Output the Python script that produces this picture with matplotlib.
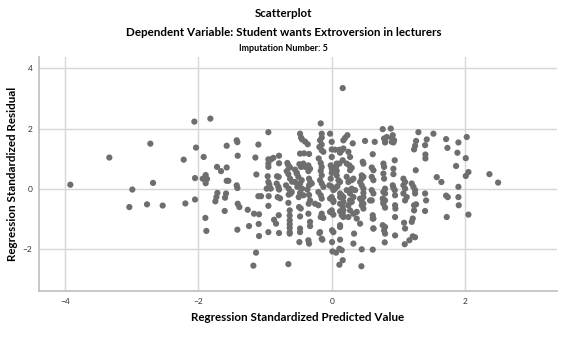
import matplotlib
matplotlib.use("Agg")
import matplotlib.pyplot as plt

# standardized predicted value / standardized residual
pred = [
    -3.92, -3.335, -2.72, -2.99, -3.035, -2.68, -2.77, -2.535, -2.22, -2.195,
    -2.06, -1.82, -2.035, -2.05, -2.05, -1.92, -1.935, -1.89, -1.87, -1.89,
    -1.895, -1.88, -1.72, -1.66, -1.575, -1.575, -1.575, -1.55, -1.715, -1.73,
    -1.745, -1.585, -1.6, -1.605,
    -1.425, -1.415, -1.41, -1.425, -1.415, -1.41, -1.385, -1.415, -1.26, -1.24,
    -1.165, -1.09, -1.095, -1.09, -1.135, -1.175, -1.1, -1.145, -1.13, -1.1,
    -1.06, -0.95, -0.95, -0.91, -0.875, -0.95, -0.95, -0.79, -0.79, -0.96,
    -0.82, -0.795, -0.95, -0.935, -0.975, -0.915, -0.945, -0.79, -0.81, -0.775,
    -0.95, -0.795, -0.865, -0.835, -0.95, -0.79, -0.65, -0.665, -0.65, -0.625,
    -0.675, -0.65, -0.625, -0.595, -0.685, -0.645, -0.62, -0.645, -0.615, -0.65,
    -0.63, -0.63, -0.63, -0.63, -0.63, -0.63, -0.63, -0.55, -0.525, -0.55,
    -0.475, -0.46, -0.445, -0.4, -0.36, -0.475, -0.415, -0.34, -0.485, -0.46,
    -0.475, -0.495, -0.49, -0.465, -0.475, -0.475, -0.475, -0.485, -0.35, -0.34,
    -0.35, -0.325, -0.35, -0.35, -0.325, -0.325, -0.25, -0.185, -0.165, -0.195,
    -0.14, -0.025, 0.0, 0.0, 0.005, 0.025, 0.005, 0.01, 0.065, 0.165,
    0.05, 0.115, 0.175, 0.125, 0.315, 0.275, 0.335, 0.325, 0.445, 0.45,
    0.5, 0.615, 0.615, 0.645,
    -0.5, -0.45, -0.475, -0.515, -0.445, -0.34, -0.32, -0.34, -0.365, -0.34,
    -0.325, -0.345, -0.2, -0.15, -0.15, -0.175, -0.15, -0.185, -0.15, -0.125,
    -0.165, -0.15, -0.165, -0.15, -0.175, -0.15, -0.125, -0.2, -0.165, -0.15,
    -0.15, -0.165, 0.0, -0.015, 0.0, 0.0, -0.015, -0.035, 0.0, 0.025,
    0.05, 0.085, 0.0, 0.025, 0.0, 0.025, 0.075, 0.115, 0.165, 0.065,
    0.075, 0.075, 0.1, 0.125, 0.125, 0.15, 0.175, 0.125, 0.165, 0.125,
    0.165, 0.175, 0.125, 0.115, 0.15, 0.165, 0.115, 0.2, 0.235, 0.25,
    0.225, 0.265, 0.275, 0.3, 0.225, 0.25, 0.3, 0.325, 0.225, 0.275,
    0.3, 0.35, 0.325, 0.3, 0.25, 0.275, 0.325, 0.375, 0.465, 0.475,
    0.45, 0.45, 0.475, 0.425, 0.45, 0.475, 0.475, 0.475, 0.45, 0.45,
    0.475, 0.6, 0.625, 0.6, 0.625, 0.6, 0.625, 0.6, 0.615, 0.615,
    0.625,
    0.765, 0.885, 0.785, 0.8, 0.915, 0.905, 0.935, 0.925, 0.775, 0.785,
    0.775, 0.785, 0.8, 0.775, 0.8, 0.765, 0.8, 0.775, 0.8, 0.765,
    0.785, 0.8, 0.795, 0.945, 0.925, 0.925, 0.915, 0.925, 0.945, 0.95,
    0.95, 0.955, 0.95, 0.95, 1.075, 1.1, 1.075, 1.1, 1.075, 1.125,
    1.1, 1.085, 1.1, 1.095, 1.165, 1.215, 1.25, 1.2, 1.225, 1.25,
    1.25, 1.235, 1.265, 1.235, 1.2, 1.215, 1.26, 1.235, 1.25, 1.265,
    1.3, 1.4, 1.425, 1.405, 1.405, 1.525, 1.4, 1.415, 1.4, 1.575,
    1.645, 1.715, 1.735, 1.715, 1.74, 1.725, 1.865, 1.885, 1.9, 1.9,
    1.9, 1.905, 2.025, 2.01, 2.01, 2.05, 2.05, 2.365, 2.495,
    0.175, 0.15, 0.125, 0.825, 0.8, 0.9, -0.025, 0.025, 0.125, 0.175,
    0.275, 0.425, 0.475, 0.575, 0.775, -0.125, -0.025, 0.0, 0.15, 0.175,
    0.25, 0.375, 0.425, 0.625, 0.625, 0.8, -0.175, -0.15, 0.125,
    -0.825, -0.8, -0.425, -0.4, -0.525, -0.6, -0.425, -0.3,
]
resid = [
    0.14, 1.04, 1.50, -0.02, -0.60, 0.20, -0.51, -0.55, 0.97, -0.48,
    2.23, 2.33, 1.37, 0.36, -0.35, 1.06, 0.34, 0.46, 0.33, 0.19,
    -0.96, -1.39, 0.73, 0.59, 1.43, 0.71, 0.27, 0.27, -0.13, -0.27,
    -0.41, -0.15, -0.29, -0.73,
    1.61, 1.55, 1.10, 0.12, 0.03, -0.49, -0.60, -1.35, -0.69, -1.23,
    -0.82, -0.84, -1.16, -1.56, -2.11, -2.54, 1.47, 1.04, 0.48, -0.24,
    -0.24, 1.88, 0.98, 0.98, 1.03, 0.84, 0.73, 1.10, 0.85, 0.42,
    0.42, 0.40, 0.23, 0.14, 0.01, 0.01, -0.24, -0.02, -0.27, -0.31,
    -0.56, -0.87, -1.02, -1.15, -1.43, -1.46, -2.49, 0.86, 0.78, 0.71,
    0.59, 0.49, 0.34, 0.24, 0.12, 0.01, -0.10, -0.19, -0.15, -0.46,
    -0.71, -0.88, -1.04, -1.17, -1.29, -1.43, -1.48, 0.64, 0.54, 0.23,
    1.83, 1.70, 1.64, 1.57, 1.48, 1.17, 1.18, 1.16, 0.82, 0.73,
    -0.13, -0.27, -0.60, -0.65, -0.91, -1.31, -1.43, -1.76, -1.70, -1.81,
    0.78, 0.67, 0.59, -0.82, -1.09, -1.23, -0.49, -1.46, 2.17, 1.01,
    -1.68, 1.83, 1.56, 1.31, -1.37, -1.43, -1.76, -2.07, -2.11, 3.34,
    1.30, 1.30, 1.34, -1.20, 1.51, 1.06, -1.48, -1.81, -2.56, -2.00,
    1.59, 1.15, -2.01, 1.56,
    0.40, 0.29, 0.18, 0.07, 0.01, 0.34, 0.23, 0.12, -0.02, -0.20,
    -0.38, -0.49, -0.54, 1.83, 1.70, 1.61, 1.47, 1.39, 1.28, 1.23,
    0.86, 0.73, 0.60, 0.45, 0.29, 0.18, 0.07, -0.10, -0.21, -0.32,
    -0.82, -0.93, 1.06, 0.78, 0.67, 0.53, 0.34, 0.12, 0.07, -0.04,
    0.01, 0.09, -0.27, -0.43, -0.78, -0.85, 0.84, 0.84, 0.95, 0.73,
    0.60, 0.45, 0.29, 0.23, -0.15, -0.21, -0.27, -0.49, -0.60, -0.74,
    -0.82, -0.93, -1.68, -1.98, -2.03, -2.36, -2.51, 1.69, 1.78, 1.23,
    0.84, 0.78, 0.62, 0.70, 0.40, 0.23, 0.29, 0.34, -0.04, -0.15,
    0.01, -0.04, -0.27, -0.43, -0.54, -0.71, -0.82, -0.76, 0.90, 0.84,
    0.45, 0.34, 0.40, 0.23, 0.12, 0.01, -0.13, -0.27, -0.40, -0.54,
    -0.65, 0.71, 0.62, 0.40, 0.29, -0.04, -0.15, -0.38, -0.87, -0.98,
    -1.31,
    1.98, 2.00, 1.67, 1.54, 1.78, 1.69, 1.61, 1.54, 0.84, 0.73,
    0.51, 0.34, 0.01, -0.10, -0.15, -0.32, -0.38, -0.49, -0.62, -1.20,
    -1.37, -1.48, -1.77, 0.95, 0.67, 0.49, 0.12, 0.04, -0.04, -0.21,
    -0.54, -0.65, -0.93, -1.54, 0.34, 0.23, 0.12, 0.01, -0.15, -0.27,
    -0.38, -1.12, -1.31, -1.83, -1.70, -1.57, -1.60, 0.18, 0.07, -0.04,
    -0.15, -0.54, -0.51, -0.71, -1.09, -0.98, 0.62, 1.31, 1.43, 1.59,
    1.88, 1.45, 1.64, 1.14, 1.01, 1.83, -0.15, -0.38, -0.73, 0.39,
    0.23, 1.65, 1.36, -0.22, -0.27, -0.93, 0.76, 1.20, 1.54, 0.07,
    -0.27, -0.54, 1.72, 1.02, 0.43, 0.56, -0.85, 0.49, 0.21,
    1.61, 1.28, 1.20, 1.72, 1.56, 1.56, -0.32, -0.38, -0.27, -0.43,
    -0.38, -0.32, -0.49, -0.38, -0.43, -0.96, -0.76, -0.71, -0.87, -0.71,
    -0.93, -0.98, -1.15, -0.98, -1.31, -1.26, -1.43, -1.65, -1.26,
    0.18, 0.07, 0.84, 0.73, 0.51, -0.10, -0.21, 0.18,
]

xticks = [-4, -2, 0, 2]
yticks = [-2, 0, 2, 4]

plt.rcParams['font.family'] = ['Lato', 'DejaVu Sans']

fig = plt.figure(figsize=(5.74, 3.53), dpi=100)
ax = fig.add_axes([0.0685, 0.1765, 0.9015, 0.662])

ax.scatter(pred, resid, s=20, color='#6e6e6e', edgecolors='none', zorder=3)

ax.set_xlim(-4.385, 3.375)
ax.set_ylim(-3.37, 4.37)
ax.set_xticks(xticks)
ax.set_yticks(yticks)
ax.grid(True, color='#d6d6d6', linewidth=1)
ax.set_axisbelow(True)

for side in ['top', 'right']:
    ax.spines[side].set_visible(False)
for side in ['left', 'bottom']:
    ax.spines[side].set_color('#bdbdbd')
    ax.spines[side].set_linewidth(1.2)
ax.tick_params(length=0, labelsize=6, colors='#333333', pad=5)

ax.set_xlabel('Regression Standardized Predicted Value', fontsize=8.4,
              fontweight='bold', labelpad=5)
ax.set_ylabel('Regression Standardized Residual', fontsize=8.4,
              fontweight='bold', labelpad=3)

fig.text(0.494, 0.963, 'Scatterplot', ha='center', va='center',
         fontsize=8.3, fontweight='bold')
fig.text(0.494, 0.908, 'Dependent Variable: Student wants Extroversion in lecturers',
         ha='center', va='center', fontsize=8.4, fontweight='bold')
fig.text(0.494, 0.862, 'Imputation Number: 5', ha='center', va='center',
         fontsize=6.5, fontweight='bold')

fig.savefig('out.png', dpi=100)
